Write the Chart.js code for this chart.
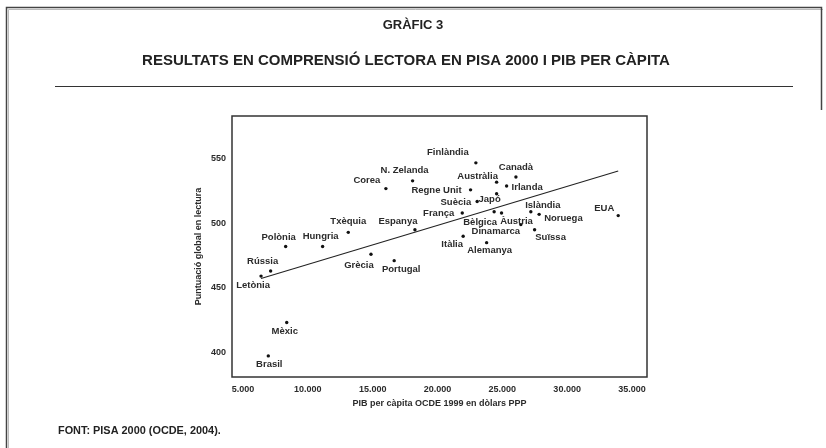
<!DOCTYPE html>
<html><head><meta charset="utf-8">
<script src="https://cdn.jsdelivr.net/npm/chart.js@4/dist/chart.umd.min.js"></script>
<style>html,body{margin:0;padding:0;background:#fff;} #wrap{position:relative;width:826px;height:448px;}</style>
</head><body><div id="wrap"><canvas id="c" width="826" height="448"></canvas></div>
<script>
// ---- data ----
const countries = ['Finlàndia','Canadà','Austràlia','Irlanda','N. Zelanda','Corea','Regne Unit','Japó','Suècia','França','Bèlgica','Àustria','Islàndia','Noruega','EUA','Dinamarca','Suïssa','Espanya','Txèquia','Itàlia','Alemanya','Hungria','Polònia','Grècia','Portugal','Rússia','Letònia','Mèxic','Brasil'];
const gdpPerCapita = [22960,26050,24560,25330,18080,16020,22550,24560,23060,21910,24370,24940,27200,27840,33940,26430,27490,18260,13120,21980,23790,11140,8290,14870,16660,7130,6390,8370,6950];
const readingScore = [547,536,532,529,533,527,526,523,517,508,509,508,509,507,506,499,495,495,493,490,485,482,482,476,471,463,459,423,397];
const trendGdp = [6390, 33940];
const trendScore = [457.2, 540.6];
const xTickValues = [5000,10000,15000,20000,25000,30000,35000];
const yTickValues = [400,450,500,550];

const chartTitle = 'GRÀFIC 3';
const chartSubtitle = 'RESULTATS EN COMPRENSIÓ LECTORA EN PISA 2000 I PIB PER CÀPITA';
const xTitle = 'PIB per càpita OCDE 1999 en dòlars PPP';
const yTitle = 'Puntuació global en lectura';
const sourceNote = 'FONT: PISA 2000 (OCDE, 2004).';

// ---- label placement (layout only): [dx, dy, align] ----
const labelPlacement = {
 'Finlàndia':[-28,-10,'center'],'Canadà':[0,-10,'center'],'Austràlia':[-19,-6,'center'],
 'Irlanda':[5,1,'left'],'N. Zelanda':[-8,-10,'center'],'Corea':[-19,-8,'center'],
 'Regne Unit':[-9,1,'right'],'Japó':[-7,6,'center'],'Suècia':[-6,1,'right'],
 'França':[-8,0,'right'],'Bèlgica':[-14,11,'center'],'Àustria':[15,8,'center'],
 'Islàndia':[12,-6,'center'],'Noruega':[5,4,'left'],'EUA':[-14,-7,'center'],
 'Dinamarca':[-25,7,'center'],'Suïssa':[16,8,'center'],'Espanya':[-17,-8,'center'],
 'Txèquia':[0,-11,'center'],'Itàlia':[-11,8,'center'],'Alemanya':[3,8,'center'],
 'Hungria':[-2,-10,'center'],'Polònia':[-7,-9,'center'],'Grècia':[-12,11,'center'],
 'Portugal':[7,9,'center'],'Rússia':[-8,-10,'center'],'Letònia':[-8,9,'center'],
 'Mèxic':[-2,9,'center'],'Brasil':[1,8,'center']
};

const FONT = "'Liberation Sans', Arial, sans-serif";
const TXT = '#2b2b2b';

function fmtThousands(v){ return String(v).replace(/\B(?=(\d{3})+(?!\d))/g,'.'); }

const points = countries.map((c,i)=>({x:gdpPerCapita[i], y:readingScore[i], name:c}));
const trend = trendGdp.map((x,i)=>({x, y:trendScore[i]}));

const decorPlugin = {
  id:'decor',
  beforeDraw(chart){
    const ctx = chart.ctx;
    ctx.save();
    ctx.fillStyle='#fff'; ctx.fillRect(0,0,chart.width,chart.height);
    // outer frame
    ctx.strokeStyle='#bbb'; ctx.lineWidth=1;
    ctx.beginPath(); ctx.moveTo(8.5,448); ctx.lineTo(8.5,9.5); ctx.lineTo(823,9.5); ctx.stroke();
    ctx.strokeStyle='#444'; ctx.lineWidth=1.5;
    ctx.beginPath(); ctx.moveTo(6.5,448); ctx.lineTo(6.5,7.5); ctx.lineTo(821.5,7.5); ctx.lineTo(821.5,110); ctx.stroke();
    // titles
    ctx.fillStyle='#222'; ctx.textAlign='center'; ctx.textBaseline='middle';
    ctx.font = 'bold 13px '+FONT;
    ctx.fillText(chartTitle, 413, 25);
    ctx.font = 'bold 15px '+FONT;
    ctx.fillText(chartSubtitle, 406, 61);
    // rule
    ctx.strokeStyle='#333'; ctx.lineWidth=1;
    ctx.beginPath(); ctx.moveTo(55,86.5); ctx.lineTo(793,86.5); ctx.stroke();
    // footer
    ctx.textAlign='left';
    ctx.font = 'bold 10.9px '+FONT;
    ctx.fillText(sourceNote, 58, 431);
    ctx.restore();
  },
  afterDatasetsDraw(chart){
    const ctx = chart.ctx, a = chart.chartArea;
    ctx.save();
    ctx.strokeStyle='#333'; ctx.lineWidth=1.5;
    ctx.strokeRect(a.left, a.top, a.right-a.left, a.bottom-a.top);
    const meta = chart.getDatasetMeta(0);
    ctx.font = 'bold 9.5px '+FONT; ctx.fillStyle=TXT; ctx.textBaseline='middle';
    meta.data.forEach((el,i)=>{
      const p = labelPlacement[countries[i]] || [0,-9,'center'];
      ctx.textAlign = p[2];
      ctx.fillText(countries[i], el.x+p[0], el.y+p[1]);
    });
    ctx.restore();
  }
};

new Chart(document.getElementById('c'), {
  data:{
    datasets:[
      {type:'scatter', data:points, pointRadius:1.7, pointBackgroundColor:'#111', pointBorderWidth:0, pointHoverRadius:1.7},
      {type:'line', data:trend, borderColor:'#222', borderWidth:1.1, pointRadius:0, fill:false, tension:0}
    ]
  },
  options:{
    responsive:false, animation:false, devicePixelRatio:1,
    layout:{padding:{left:180, top:116, right:179, bottom:31}},
    plugins:{legend:{display:false}, tooltip:{enabled:false}, title:{display:false}},
    scales:{
      x:{type:'linear', min:4150, max:36160,
         afterBuildTicks:s=>{ s.ticks = xTickValues.map(v=>({value:v})); },
         afterFit:s=>{ s.height = 40; },
         grid:{display:false, drawTicks:false}, border:{display:false},
         ticks:{padding:7, color:TXT, font:{family:FONT, size:9, weight:'bold'}, maxRotation:0, callback:v=>fmtThousands(v)},
         title:{display:true, text:xTitle, color:TXT, font:{family:FONT, size:9, weight:'bold'}, padding:{top:0,bottom:8}}
      },
      y:{type:'linear', min:380.6, max:583.4,
         afterBuildTicks:s=>{ s.ticks = yTickValues.map(v=>({value:v})); },
         afterFit:s=>{ s.width = 52; },
         grid:{display:false, drawTicks:false}, border:{display:false},
         ticks:{padding:6, color:TXT, font:{family:FONT, size:9, weight:'bold'}},
         title:{display:true, text:yTitle, color:TXT, font:{family:FONT, size:9, weight:'bold'}, padding:{top:13,bottom:0}}
      }
    }
  },
  plugins:[decorPlugin]
});
</script></body></html>
